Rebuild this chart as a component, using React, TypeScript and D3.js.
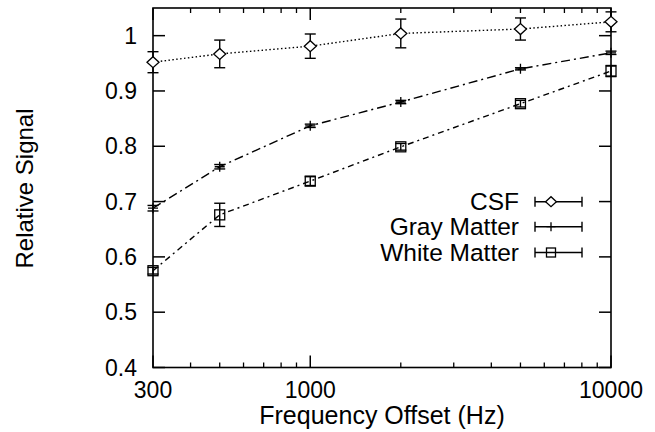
import React from "react";
import * as d3 from "d3";

const freqs = [300, 500, 1000, 2000, 5000, 10000];
const csfValues = [0.952, 0.967, 0.981, 1.004, 1.012, 1.025];
const csfErrors = [0.019, 0.025, 0.022, 0.026, 0.02, 0.018];
const grayValues = [0.688, 0.763, 0.837, 0.88, 0.94, 0.969];
const grayErrors = [0.005, 0.004, 0.003, 0.003, 0.002, 0.003];
const whiteValues = [0.575, 0.676, 0.737, 0.799, 0.877, 0.936];
const whiteErrors = [0.006, 0.021, 0.008, 0.006, 0.006, 0.01];
const seriesNames = ["CSF", "Gray Matter", "White Matter"];
const yTicks = [0.4, 0.5, 0.6, 0.7, 0.8, 0.9, 1];
const xTickLabels = [300, 1000, 10000];
const xMinorTicks = [400, 500, 600, 700, 800, 900, 2000, 3000, 4000, 5000, 6000, 7000, 8000, 9000];

const W = 655, H = 432;
const L = 153, R = 611, T = 8, B = 367.5;
const FONT = "'Liberation Sans', Arial, Helvetica, sans-serif";

export default function App() {
  const x = d3.scaleLog().domain([300, 10000]).range([L, R]);
  const y = d3.scaleLinear().domain([0.4, 1.05]).range([B, T]);

  const series = [
    { name: seriesNames[0], vals: csfValues, errs: csfErrors, sym: "diamond", dash: "1.5,2.4" },
    { name: seriesNames[1], vals: grayValues, errs: grayErrors, sym: "plus", dash: "9,4,2,4" },
    { name: seriesNames[2], vals: whiteValues, errs: whiteErrors, sym: "square", dash: "6,4,2,4" },
  ];

  const line = d3.line<[number, number]>().x((d) => x(d[0])).y((d) => y(d[1]));

  const symbol = (sym: string, cx: number, cy: number, key: string, s = 1) => {
    if (sym === "diamond") {
      return (
        <path key={key} d={`M${cx - 6 * s},${cy}L${cx},${cy - 5.5 * s}L${cx + 6 * s},${cy}L${cx},${cy + 5.5 * s}Z`}
          fill="white" stroke="black" strokeWidth={1.3} />
      );
    }
    if (sym === "square") {
      return (
        <rect key={key} x={cx - 5 * s} y={cy - 5 * s} width={10 * s} height={10 * s} fill="none" stroke="black" strokeWidth={1.3} />
      );
    }
    return (
      <path key={key} d={`M${cx - 5 * s},${cy}H${cx + 5 * s}M${cx},${cy - 5 * s}V${cy + 5 * s}`} stroke="black" strokeWidth={1.3} />
    );
  };

  const legendY = [201.7, 226.7, 252.5];

  return (
    <svg width={W} height={H} style={{ position: "absolute", left: 0, top: 0, background: "white" }}
      fontFamily={FONT}>
      <rect x={0} y={0} width={W} height={H} fill="white" />
      <rect x={L} y={T} width={R - L} height={B - T} fill="none" stroke="black" strokeWidth={1.6} />
      {yTicks.map((t) => (
        <g key={"y" + t}>
          <line x1={L} x2={L + 12} y1={y(t)} y2={y(t)} stroke="black" strokeWidth={1.5} />
          <line x1={R} x2={R - 12} y1={y(t)} y2={y(t)} stroke="black" strokeWidth={1.5} />
          <text x={L - 16} y={y(t) + 8} textAnchor="end" fontSize={23}>{String(t)}</text>
        </g>
      ))}
      {xTickLabels.map((t) => (
        <g key={"x" + t}>
          <line x1={x(t)} x2={x(t)} y1={B} y2={B - 12} stroke="black" strokeWidth={1.5} />
          <line x1={x(t)} x2={x(t)} y1={T} y2={T + 12} stroke="black" strokeWidth={1.5} />
          <text x={x(t)} y={398} textAnchor="middle" fontSize={23}>{String(t)}</text>
        </g>
      ))}
      {xMinorTicks.map((t) => (
        <g key={"xm" + t}>
          <line x1={x(t)} x2={x(t)} y1={B} y2={B - 5} stroke="black" strokeWidth={1.3} />
          <line x1={x(t)} x2={x(t)} y1={T} y2={T + 5} stroke="black" strokeWidth={1.3} />
        </g>
      ))}
      <text x={382} y={424} textAnchor="middle" fontSize={25}>Frequency Offset (Hz)</text>
      <text transform={`translate(33,188.5) rotate(-90)`} textAnchor="middle" fontSize={24}>Relative Signal</text>
      {series.map((s, si) => {
        const pts: [number, number][] = freqs.map((f, i) => [f, s.vals[i]]);
        return (
          <g key={s.name}>
            <path d={line(pts) || ""} fill="none" stroke="black" strokeWidth={1.4} strokeDasharray={s.dash} />
            {freqs.map((f, i) => {
              const cx = x(f);
              const y1 = y(s.vals[i] + s.errs[i]);
              const y2 = y(s.vals[i] - s.errs[i]);
              return (
                <g key={si + "-" + i}>
                  <line x1={cx} x2={cx} y1={y1} y2={y2} stroke="black" strokeWidth={1.4} />
                  <line x1={cx - 5.5} x2={cx + 5.5} y1={y1} y2={y1} stroke="black" strokeWidth={1.4} />
                  <line x1={cx - 5.5} x2={cx + 5.5} y1={y2} y2={y2} stroke="black" strokeWidth={1.4} />
                  {symbol(s.sym, cx, y(s.vals[i]), "s" + si + i)}
                </g>
              );
            })}
          </g>
        );
      })}
      {series.map((s, si) => {
        const ly = legendY[si];
        return (
          <g key={"leg" + si}>
            <text x={519} y={ly + 8} textAnchor="end" fontSize={24.5}>{s.name}</text>
            <line x1={535} x2={582} y1={ly} y2={ly} stroke="black" strokeWidth={1.4} />
            <line x1={535} x2={535} y1={ly - 5} y2={ly + 5} stroke="black" strokeWidth={1.4} />
            <line x1={582} x2={582} y1={ly - 5} y2={ly + 5} stroke="black" strokeWidth={1.4} />
            {symbol(s.sym, 551, ly, "ls" + si, 0.9)}
          </g>
        );
      })}
    </svg>
  );
}
